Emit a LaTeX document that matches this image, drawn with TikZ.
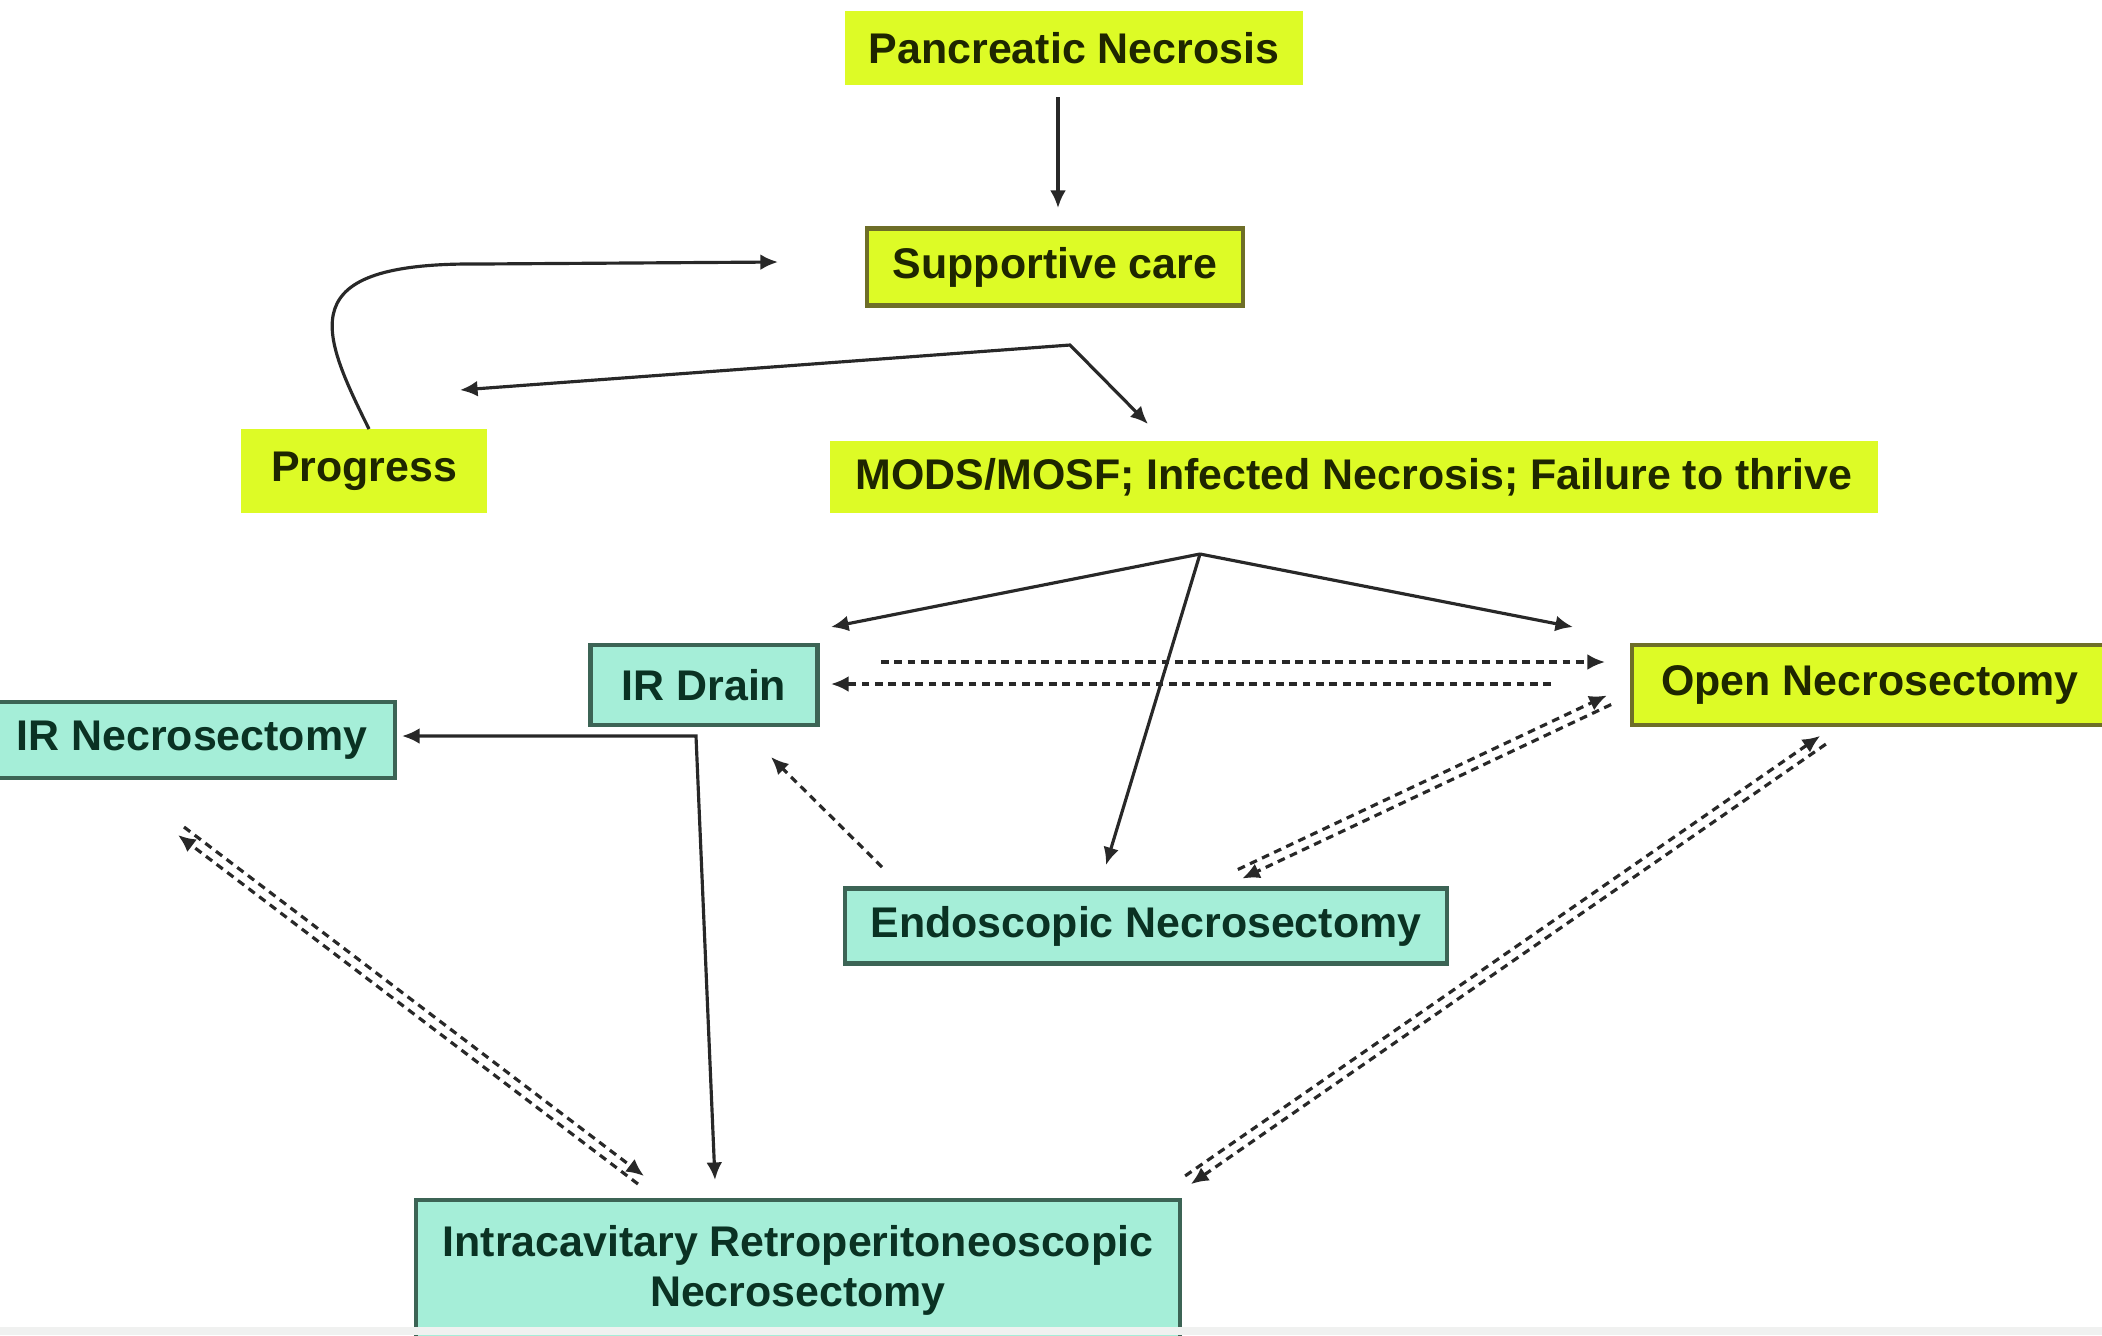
\documentclass[tikz,border=0pt]{standalone}
\usepackage{fontspec}
\setmainfont{Liberation Sans}
\usetikzlibrary{arrows.meta,calc}
\definecolor{ylw}{RGB}{221,251,38}
\definecolor{yedge}{RGB}{110,110,40}
\definecolor{ytxt}{RGB}{30,38,0}
\definecolor{tfill}{RGB}{165,238,216}
\definecolor{tedge}{RGB}{60,100,85}
\definecolor{ttxt}{RGB}{10,50,35}
\definecolor{arr}{RGB}{40,40,40}
\definecolor{strip}{RGB}{240,241,240}
\newcommand\dpair[2]{%
  \draw[dsh] ($(#1)!0.05cm!90:(#2)$) -- ($(#2)!0.05cm!-90:(#1)$);
  \draw[dsh] ($(#2)!0.05cm!90:(#1)$) -- ($(#1)!0.05cm!-90:(#2)$);}
\begin{document}
\begin{tikzpicture}[x={(0.01cm,0)},y={(0,-0.01cm)},
  txt/.style={font=\bfseries\fontsize{12.2}{14.2}\selectfont, inner sep=0pt, align=center},
  ybox/.style={txt, fill=ylw, draw=none, text=ytxt},
  ybord/.style={ybox, draw=yedge, line width=1.2pt},
  tbox/.style={txt, fill=tfill, draw=tedge, line width=1.2pt, text=ttxt},
  sol/.style={draw=arr, line width=0.9pt, -{Latex[length=5pt,width=4.5pt]}},
  dsh/.style={draw=arr, line width=0.9pt, dash pattern=on 2.2pt off 1.6pt, -{Latex[length=5pt,width=4.5pt]}}]
\useasboundingbox (0,0) rectangle (2102,1335);
\clip (0,0) rectangle (2102,1335);
\fill[white] (0,0) rectangle (2102,1335);

% nodes
\node[ybox, minimum width=4.58cm, minimum height=0.74cm] (pn) at (1074,48) {Pancreatic Necrosis};
\node[ybord, minimum width=3.76cm, minimum height=0.77cm] (sc) at (1055,267) {Supportive care};
\node[ybox, minimum width=2.46cm, minimum height=0.84cm] (pr) at (364,471) {Progress};
\node[ybox, minimum width=10.47cm, minimum height=0.71cm] (mods) at (1354,477) {MODS/MOSF; Infected Necrosis; Failure to thrive};
\node[tbox, minimum width=2.27cm, minimum height=0.80cm] (ird) at (704,685) {IR Drain};
\node[ybord, minimum width=4.75cm, minimum height=0.80cm] (open) at (1870,685) {Open Necrosectomy};
\node[tbox, minimum width=4.06cm, minimum height=0.76cm] (irn) at (192,740) {IR Necrosectomy};
\node[tbox, minimum width=6.01cm, minimum height=0.75cm] (endo) at (1146,926) {Endoscopic Necrosectomy};
\node[tbox, minimum width=7.64cm, minimum height=1.40cm] (intra) at (798,1270) {Intracavitary Retroperitoneoscopic\\Necrosectomy};

% coordinates
\coordinate (pnA) at (1058,97);
\coordinate (scA) at (1058,208);
\coordinate (prTop) at (369,429);
\coordinate (cEnd) at (778,262);
\coordinate (j1) at (1070,345);
\coordinate (j1L) at (460,390);
\coordinate (j1R) at (1148,424);
\coordinate (j2) at (1200,554);
\coordinate (j2L) at (831,627);
\coordinate (j2R) at (1573,627);
\coordinate (j2D) at (1106,865);
\coordinate (hA) at (881,662);
\coordinate (hB) at (1605,662);
\coordinate (hC) at (1551,684);
\coordinate (hD) at (831,684);
\coordinate (oe1) at (1609,700);
\coordinate (oe2) at (1240,874);
\coordinate (ei1) at (882,867);
\coordinate (ei2) at (771,757);
\coordinate (corner) at (696,736);
\coordinate (irL) at (402,736);
\coordinate (irD) at (715,1180);
\coordinate (ii1) at (181,831);
\coordinate (ii2) at (641,1180);
\coordinate (oi1) at (1823,740);
\coordinate (oi2) at (1188,1180);

% solid connectors
\draw[sol] (pnA) -- (scA);
\draw[sol] (prTop) .. controls (320,330) and (290,262) .. (480,264) -- (cEnd);
\draw[sol, {Latex[length=5pt,width=4.5pt]}-{Latex[length=5pt,width=4.5pt]}] (j1L) -- (j1) -- (j1R);
\draw[sol] (j2) -- (j2L);
\draw[sol] (j2) -- (j2R);
\draw[sol] (j2) -- (j2D);
\draw[sol, {Latex[length=5pt,width=4.5pt]}-{Latex[length=5pt,width=4.5pt]}] (irL) -- (corner) -- (irD);

% dashed connectors
\draw[dsh] (hA) -- (hB);
\draw[dsh] (hC) -- (hD);
\draw[dsh] (ei1) -- (ei2);
\dpair{oe2}{oe1}
\dpair{ii2}{ii1}
\dpair{oi2}{oi1}

\fill[strip] (0,1327) rectangle (2102,1335);
\end{tikzpicture}
\end{document}
